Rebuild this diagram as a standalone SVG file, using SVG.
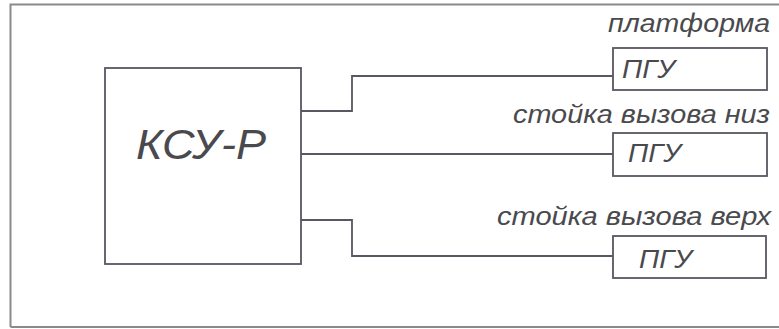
<svg xmlns="http://www.w3.org/2000/svg" width="779" height="329" viewBox="0 0 779 329">
<style>
.frame{fill:none;stroke:#8a8a8a;stroke-width:2}
.box{fill:#ffffff;stroke:#5a5662;stroke-width:1.8}
.wire{fill:none;stroke:#5a5662;stroke-width:1.8}
.t{font-family:"Liberation Sans",Arial,sans-serif;font-style:italic;fill:#4a4a4e}
.lbl{font-size:26px}
.pgu{font-size:26px}
</style>
<rect x="0" y="0" width="779" height="329" fill="#ffffff"/>
<path class="frame" d="M10.5,327 L10.5,4.5 L779,4.5 M10.5,327 L779,327"/>
<g id="connectors">
<path class="wire" d="M301,111 H352 V76 H613"/>
<path class="wire" d="M301,154 H613"/>
<path class="wire" d="M301,220 H352 V256 H613"/>
</g>
<g id="ksu">
<rect class="box" x="105" y="68" width="196" height="196"/>
<text class="t" x="136" y="159" font-size="43" textLength="130" lengthAdjust="spacingAndGlyphs">КСУ-Р</text>
</g>
<g id="pgu1">
<text class="t lbl" x="608" y="32" textLength="162" lengthAdjust="spacingAndGlyphs">платформа</text>
<rect class="box" x="613" y="48" width="154" height="42"/>
<text class="t pgu" x="622" y="78" textLength="53" lengthAdjust="spacingAndGlyphs">ПГУ</text>
</g>
<g id="pgu2">
<text class="t lbl" x="513" y="123" textLength="257" lengthAdjust="spacingAndGlyphs">стойка вызова низ</text>
<rect class="box" x="613" y="133" width="154" height="43"/>
<text class="t pgu" x="628" y="162" textLength="53" lengthAdjust="spacingAndGlyphs">ПГУ</text>
</g>
<g id="pgu3">
<text class="t lbl" x="497" y="225" textLength="274" lengthAdjust="spacingAndGlyphs">стойка вызова верх</text>
<rect class="box" x="613" y="236" width="153" height="42"/>
<text class="t pgu" x="639" y="268" textLength="53" lengthAdjust="spacingAndGlyphs">ПГУ</text>
</g>
</svg>
